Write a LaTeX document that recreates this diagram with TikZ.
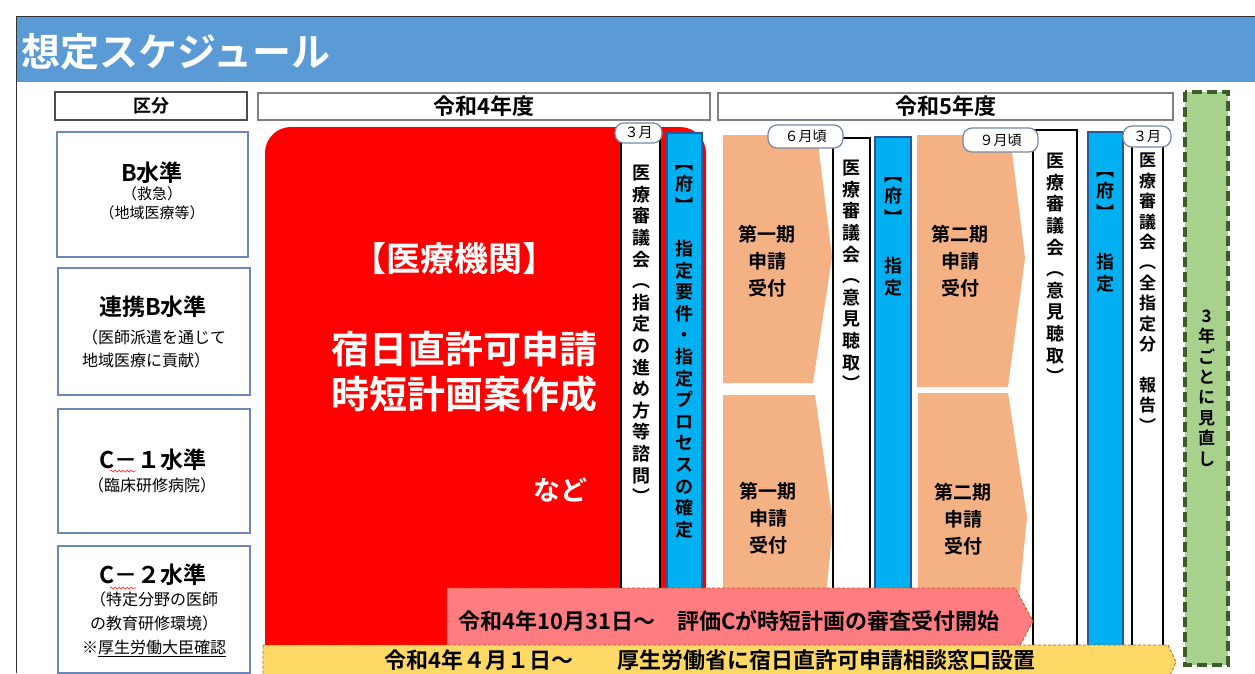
\documentclass[tikz,border=0pt]{standalone}
\usepackage{fontspec}
\setmainfont{Noto Sans CJK JP}[BoldFont={Noto Sans CJK JP Bold}]
\usetikzlibrary{positioning,decorations.pathmorphing}

\definecolor{titleblue}{HTML}{5B9BD5}
\definecolor{boxline}{HTML}{6F86B8}
\definecolor{hdrline}{HTML}{808080}
\definecolor{fublue}{HTML}{00B0F0}
\definecolor{fuline}{HTML}{2F5597}
\definecolor{kiorange}{HTML}{F4B183}
\definecolor{bannerpink}{HTML}{FF7C80}
\definecolor{banneryellow}{HTML}{FFD966}
\definecolor{dashorange}{HTML}{C55A11}
\definecolor{reviewgreen}{HTML}{A9D18E}
\definecolor{reviewline}{HTML}{3B5E27}
\definecolor{pilline}{HTML}{7586A8}

\newcommand\fsz[2]{\fontsize{#1}{#2}\selectfont}
\makeatletter
\newcommand\tatestack[1]{\vbox{\baselineskip=1.2em\lineskiplimit=-\maxdimen
  \@tfor\tate@c:=#1\do{\hbox to 1em{\hss\tate@c\hss}}}}
\makeatother

\begin{document}
\begin{tikzpicture}[x=1pt,y=-1pt,
    catbox/.style={draw=boxline,line width=1.2pt,fill=white,inner sep=0pt},
    hdrbox/.style={draw=hdrline,line width=1.2pt,fill=white,inner sep=0pt,font=\bfseries\fsz{22}{24}},
    cathead/.style={inner sep=0pt,font=\bfseries\fsz{23}{25}},
    catsub/.style={inner sep=0pt,align=center,font=\fsz{15}{19}},
    redtext/.style={inner sep=0pt,text=white,font=\bfseries\fsz{37}{45},align=center},
    wstrip/.style={draw=black,line width=2pt,fill=white},
    bstrip/.style={draw=fuline,line width=2.5pt,fill=fublue},
    tatetext/.style={inner sep=0pt,anchor=north,font=\bfseries\fsz{18}{22}},
    kitext/.style={inner sep=0pt,align=center,font=\bfseries\fsz{19}{27}},
    pill/.style={draw=pilline,line width=1.2pt,fill=white,rounded corners=9pt,inner sep=0pt,font=\fsz{14}{14}},
    banner/.style={draw=dashorange,line width=0.8pt,dash pattern=on 3pt off 2pt},
    bannertext/.style={inner sep=0pt,font=\bfseries\fsz{22}{22}},
    squiggle/.style={draw=red!80,line width=0.7pt,decorate,decoration={snake,amplitude=1pt,segment length=4pt}}
  ]
  \useasboundingbox (0,0) rectangle (1255,673);

  % title bar
  \fill[titleblue] (17,17) rectangle (1255,82);
  \draw[black!80,line width=1pt] (16,673) -- (16,16) -- (1255,16);
  \node[inner sep=0pt,anchor=west,text=white,font=\bfseries\fsz{39}{40}] (title) at (21,52) {想定スケジュール};

  % left column
  \node[catbox,draw=black!70,minimum width=192pt,minimum height=28pt,font=\bfseries\fsz{18}{20}] (kubun) at (151,106) {区分};
  \node[catbox,minimum width=191pt,minimum height=125pt] (levB) at (152.5,194.5) {};
  \node[cathead] (levBh) at (152,173) {B水準};
  \node[catsub] (levBs) at (152,203.5) {（救急）\\（地域医療等）};

  \node[catbox,minimum width=192pt,minimum height=127pt] (levRB) at (154,331.5) {};
  \node[cathead] (levRBh) at (153,307) {連携B水準};
  \node[catsub,align=left,font=\fsz{16}{23}] (levRBs) at (154,348.5) {（医師派遣を通じて\\地域医療に貢献）};

  \node[catbox,minimum width=192pt,minimum height=124pt] (levC1) at (154,471) {};
  \node[cathead] (levC1h) at (153,460) {C－１水準};
  \node[catsub,font=\fsz{16}{19}] (levC1s) at (152,485) {（臨床研修病院）};
  \draw[squiggle] (110,471) -- (136,471);

  \node[catbox,minimum width=192pt,minimum height=127pt] (levC2) at (154,609.5) {};
  \node[cathead] (levC2h) at (153,575) {C－２水準};
  \node[catsub,font=\fsz{16}{24}] (levC2s) at (154,624) {（特定分野の医師\\の教育研修環境）\\※\underline{厚生労働大臣確認}};
  \draw[squiggle] (110,588) -- (136,588);

  % fiscal years
  \node[hdrbox,minimum width=452pt,minimum height=27pt] (fy4) at (484,106.5) {令和4年度};
  \node[hdrbox,minimum width=455pt,minimum height=27pt] (fy5) at (945.5,106.5) {令和5年度};

  % hospitals block
  \fill[red,rounded corners=26pt] (265,127) rectangle (706,720);
  \node[redtext,font=\bfseries\fsz{34}{40}] (kikan) at (454,259) {【医療機関】};
  \node[redtext,font=\bfseries\fsz{38}{45}] (shinsei) at (464,372) {宿日直許可申請\\時短計画案作成};
  \node[redtext,font=\bfseries\fsz{27}{30}] (nado) at (560,490) {など};

  % strips of FY4
  \draw[wstrip] (621,140) rectangle (660,690);
  \node[tatetext] (shingi1) at (641,165) {\tatestack{医療審議会︵指定の進め方等諮問︶}};
  \draw[bstrip] (667,133) rectangle (702,690);
  \node[tatetext] (fu1) at (684.5,165) {\tatestack{︻府︼}};
  \node[tatetext] (shitei1) at (684.5,240) {\tatestack{指定要件・指定プロセスの確定}};

  % first term
  \fill[kiorange] (723,135) -- (817,135) -- (832,257) -- (813,383) -- (723,383) -- cycle;
  \node[kitext] (ki1a) at (767,261) {第一期\\申請\\受付};
  \fill[kiorange] (723,395) -- (815,395) -- (833,523) -- (817,690) -- (723,690) -- cycle;
  \node[kitext] (ki1b) at (768,518) {第一期\\申請\\受付};

  \draw[wstrip] (833,138) rectangle (870,690);
  \node[tatetext] (shingi2) at (851.5,160) {\tatestack{医療審議会︵意見聴取︶}};
  \draw[bstrip] (875,137) rectangle (911,690);
  \node[tatetext] (fu2) at (893,177) {\tatestack{︻府︼}};
  \node[tatetext] (shitei2) at (893,257) {\tatestack{指定}};

  % second term
  \fill[kiorange] (917,135) -- (1010,135) -- (1025,258) -- (1008,387) -- (917,387) -- cycle;
  \node[kitext] (ki2a) at (960,261.5) {第二期\\申請\\受付};
  \fill[kiorange] (918,393) -- (1008,393) -- (1027,517) -- (1010,690) -- (918,690) -- cycle;
  \node[kitext] (ki2b) at (963,519) {第二期\\申請\\受付};

  \draw[wstrip] (1033,130) rectangle (1077,690);
  \node[tatetext] (shingi3) at (1055,153) {\tatestack{医療審議会︵意見聴取︶}};
  \draw[bstrip] (1088,132) rectangle (1123,690);
  \node[tatetext] (fu3) at (1105.5,172) {\tatestack{︻府︼}};
  \node[tatetext] (shitei3) at (1105.5,253) {\tatestack{指定}};

  \draw[wstrip] (1132,145) rectangle (1163,690);
  \node[tatetext,font=\bfseries\fsz{17}{22}] (shingi4) at (1147.5,153) {\tatestack{医療審議会︵全指定分　報告︶}};

  % month labels
  \node[pill,minimum width=47pt,minimum height=20pt] (mar4) at (638.5,133) {３月};
  \node[pill,minimum width=75pt,minimum height=23pt] (jun5) at (805.5,136.5) {６月頃};
  \node[pill,minimum width=75pt,minimum height=24pt] (sep5) at (1000.5,140) {９月頃};
  \node[pill,minimum width=48pt,minimum height=21pt] (mar5) at (1147,136.5) {３月};

  % banners
  \draw[banner,fill=bannerpink] (447,588) -- (1015,588) -- (1033,621) -- (1015,655) -- (447,655) -- cycle;
  \node[bannertext] (hyoka) at (729,621) {令和4年10月31日～　評価Cが時短計画の審査受付開始};
  \draw[banner,fill=banneryellow] (263,645) -- (1168,645) -- (1176,662) -- (1168,680) -- (263,680) -- cycle;
  \node[bannertext] (madoguchi) at (710,660) {令和4年４月１日～　　厚生労働省に宿日直許可申請相談窓口設置};

  % review every three years
  \draw[reviewline,fill=reviewgreen,line width=4pt,dash pattern=on 10pt off 5pt] (1185,92) rectangle (1228,665);
  \node[tatetext,anchor=center,font=\bfseries\fsz{17}{20}] (minaoshi) at (1206.5,388) {\tatestack{3年ごとに見直し}};
\end{tikzpicture}
\end{document}
